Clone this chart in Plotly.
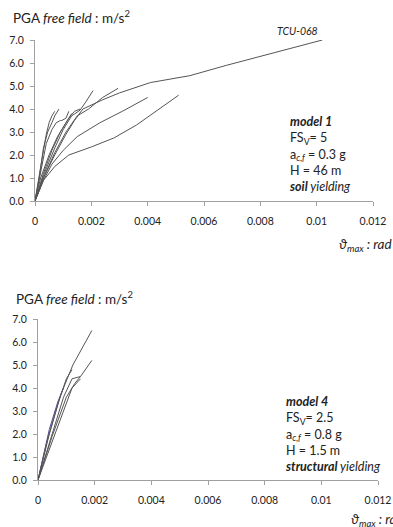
import plotly.graph_objects as go

# ---------------- data: model 1 (top) ----------------
top_curves_x = [
    [0, 0.0003, 0.0007, 0.0011, 0.0014, 0.0017, 0.0024, 0.0030, 0.0041, 0.0055, 0.0068, 0.0086, 0.0102],
    [0, 0.0003, 0.0007, 0.0011, 0.0015, 0.0019, 0.0024, 0.00295],
    [0, 0.0003, 0.0007, 0.0010, 0.0013, 0.0016, 0.0018, 0.00206],
    [0, 0.0003, 0.0006, 0.0010, 0.0015, 0.0023, 0.0031, 0.0040],
    [0, 0.0003, 0.0007, 0.0012, 0.0020, 0.0028, 0.0036, 0.0044, 0.0051],
    [0, 0.0001, 0.0003, 0.0004, 0.0005, 0.0006, 0.0007],
    [0, 0.00015, 0.0003, 0.00045, 0.0006, 0.0007, 0.00085],
    [0, 0.0002, 0.0004, 0.0006, 0.00075, 0.0009, 0.00095, 0.0011, 0.0012],
    [0, 0.0003, 0.0006, 0.0009, 0.0012, 0.0014, 0.0016],
    [0, 0.0002, 0.0005, 0.0008, 0.0011, 0.0013],
]
top_curves_y = [
    [0, 1.0, 2.0, 2.9, 3.5, 4.0, 4.4, 4.7, 5.15, 5.45, 5.9, 6.5, 7.0],
    [0, 1.0, 2.1, 3.0, 3.7, 4.0, 4.5, 4.9],
    [0, 1.1, 2.3, 3.1, 3.7, 3.95, 4.3, 4.8],
    [0, 0.9, 1.6, 2.2, 2.8, 3.4, 3.9, 4.5],
    [0, 0.9, 1.5, 2.0, 2.35, 2.74, 3.3, 4.0, 4.6],
    [0, 0.8, 2.2, 2.9, 3.4, 3.7, 3.9],
    [0, 1.0, 2.3, 3.0, 3.4, 3.7, 4.0],
    [0, 1.2, 2.5, 3.1, 3.4, 3.5, 3.5, 3.6, 3.9],
    [0, 1.2, 2.2, 3.0, 3.6, 3.9, 4.0],
    [0, 1.0, 2.0, 2.8, 3.4, 3.8],
]

# ---------------- data: model 4 (bottom) ----------------
bot_curves_x = [
    [0, 0.0004, 0.0008, 0.0011, 0.00123, 0.0019],
    [0, 0.0005, 0.0009, 0.0012, 0.0015, 0.0019],
    [0, 0.0004, 0.0007, 0.0009],
    [0, 0.0005, 0.0010, 0.0013, 0.0015],
    [0, 0.0006, 0.0010, 0.0012, 0.0015],
    [0, 0.0003, 0.0007, 0.0010, 0.0012],
]
bot_curves_y = [
    [0, 2.0, 3.7, 4.6, 5.0, 6.5],
    [0, 2.0, 3.6, 4.4, 4.5, 5.2],
    [0, 2.2, 3.4, 4.0],
    [0, 1.9, 3.6, 4.2, 4.5],
    [0, 2.0, 3.4, 4.0, 4.4],
    [0, 1.6, 3.3, 4.4, 4.8],
]
bot_colors = ["#555555", "#555555", "#4a4a9a", "#555555", "#555555", "#555555"]

x_tickvals = [0, 0.002, 0.004, 0.006, 0.008, 0.010, 0.012]
x_ticktext = ["0", "0.002", "0.004", "0.006", "0.008", "0.01", "0.012"]
y_tickvals = [0, 1, 2, 3, 4, 5, 6, 7]
y_ticktext = ["0.0", "1.0", "2.0", "3.0", "4.0", "5.0", "6.0", "7.0"]

W, H = 393, 527
FONT = "Lato"
TXT = "#222222"
AX = "#a0a0a0"

fig = go.Figure()
for xs, ys in zip(top_curves_x, top_curves_y):
    fig.add_trace(go.Scatter(x=xs, y=ys, mode="lines", line=dict(color="#555555", width=1),
                             xaxis="x", yaxis="y", showlegend=False, hoverinfo="skip"))
for xs, ys, c in zip(bot_curves_x, bot_curves_y, bot_colors):
    fig.add_trace(go.Scatter(x=xs, y=ys, mode="lines", line=dict(color=c, width=1),
                             xaxis="x2", yaxis="y2", showlegend=False, hoverinfo="skip"))

def xax(domain, anchor):
    return dict(domain=domain, anchor=anchor, range=[0, 0.012], tickvals=x_tickvals, ticktext=x_ticktext,
                showgrid=False, zeroline=False, showline=True, linecolor=AX, linewidth=1,
                ticks="outside", ticklen=4, tickcolor=AX, ticklabelstandoff=6,
                tickfont=dict(family=FONT, size=10.5, color=TXT))

def yax(domain, anchor):
    return dict(domain=domain, anchor=anchor, range=[0, 7], tickvals=y_tickvals, ticktext=y_ticktext,
                showgrid=False, zeroline=False, showline=True, linecolor=AX, linewidth=1,
                ticks="outside", ticklen=4, tickcolor=AX, ticklabelstandoff=4,
                tickfont=dict(family=FONT, size=10.5, color=TXT))

def py(p):
    return 1 - p / H

def px(p):
    return p / W

fig.update_layout(
    autosize=True, margin=dict(l=0, r=0, t=0, b=0, autoexpand=False),
    paper_bgcolor="white", plot_bgcolor="white",
    xaxis=xax([px(35), px(373)], "y"),
    yaxis=yax([py(201), py(40)], "x"),
    xaxis2=xax([px(38), px(378)], "y2"),
    yaxis2=yax([py(480), py(319)], "x2"),
)

anns = []
def ann(text, x, y, size=12, xanchor="left", align="left"):
    anns.append(dict(text=text, x=px(x), y=py(y), xref="paper", yref="paper", xanchor=xanchor,
                     yanchor="middle", align=align, showarrow=False,
                     font=dict(family=FONT, size=size, color=TXT)))

ann("PGA <i>free field</i> : m/s<sup>2</sup>", 11, 17, 13.5)
ann("PGA <i>free field</i> : m/s<sup>2</sup>", 14, 298, 13.5)
ann("<i>TCU-068</i>", 297, 31, 10.5, "center", "center")
ann("<i>ϑ<sub>max</sub> : rad</i>", 337, 245, 13.5)
ann("<i>ϑ<sub>max</sub> : rad</i>", 349, 520, 13.5)

top_lines = ["<b><i>model 1</i></b>", "FS<sub>V</sub>= 5", "a<sub><i>c,f</i></sub> = 0.3 g", "H = 46 m",
             "<b><i>soil</i></b><i> yielding</i>"]
bot_lines = ["<b><i>model 4</i></b>", "FS<sub>V</sub>= 2.5", "a<sub><i>c,f</i></sub> = 0.8 g", "H = 1.5 m",
             "<b><i>structural</i></b><i> yielding</i>"]
ann("<br>".join(top_lines), 287, 154, 12.5)
ann("<br>".join(bot_lines), 283, 434, 12.5)

fig.update_layout(annotations=anns)
fig.write_html("out.html", config={"responsive": True})
